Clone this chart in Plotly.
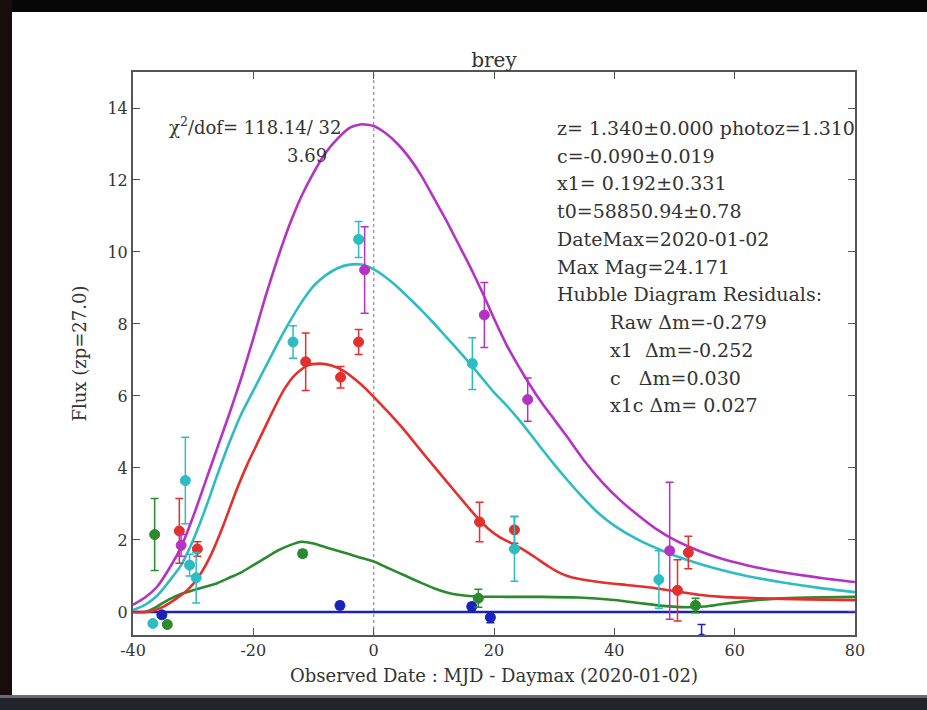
import plotly.graph_objects as go

# ---------------- model light curves (flux vs. days from peak) ----------------
mag_x = [-40, -38, -36, -34, -32, -30, -28, -26, -24, -22, -20, -18, -16, -14, -12, -10, -8, -6, -4, -2,
         0, 2, 4, 6, 8, 10, 12, 14, 16, 18, 20, 22, 24, 26, 28, 30, 32, 35, 38, 41, 44, 47, 50, 54, 58,
         62, 66, 70, 75, 80]
mag_y = [0.2, 0.4, 0.7, 1.2, 1.8, 2.65, 3.6, 4.55, 5.5, 6.5, 7.6, 8.75, 9.8, 10.75, 11.55, 12.2, 12.75,
         13.15, 13.45, 13.55, 13.5, 13.3, 13.0, 12.6, 12.1, 11.5, 10.9, 10.25, 9.6, 8.9, 8.15, 7.45, 6.85,
         6.3, 5.8, 5.35, 4.9, 4.2, 3.6, 3.1, 2.68, 2.3, 2.0, 1.7, 1.47, 1.3, 1.16, 1.05, 0.93, 0.83]

cyan_x = [-40, -38, -36, -34, -32, -30, -28, -26, -24, -22, -20, -18, -16, -14, -12, -10, -8, -6, -4, -2,
          0, 2, 4, 6, 8, 10, 12, 14, 16, 18, 20, 22, 24, 26, 28, 30, 32, 34, 37, 40, 44, 48, 52, 57, 62,
          68, 74, 80]
cyan_y = [0.05, 0.2, 0.45, 0.85, 1.3, 2.0, 2.85, 3.8, 4.7, 5.5, 6.15, 6.8, 7.45, 8.05, 8.6, 9.05, 9.35,
          9.55, 9.65, 9.65, 9.52, 9.3, 9.02, 8.7, 8.37, 8.02, 7.65, 7.28, 6.9, 6.5, 6.1, 5.75, 5.37, 4.95,
          4.52, 4.1, 3.7, 3.32, 2.8, 2.4, 2.0, 1.7, 1.45, 1.2, 1.0, 0.82, 0.67, 0.55]

red_x = [-40, -38, -37, -35, -33, -31, -29, -27, -25, -23, -21, -19, -17, -15, -13, -11, -9, -7, -5, -3,
         -1, 1, 3, 5, 7, 9, 11, 13, 15, 17, 19, 21, 23, 25, 27, 29, 31, 33, 38, 42, 46, 50, 54, 58, 64,
         72, 80]
red_y = [0.0, 0.0, 0.02, 0.14, 0.35, 0.6, 1.0, 1.6, 2.4, 3.3, 4.1, 4.8, 5.5, 6.15, 6.6, 6.85, 6.9, 6.85,
         6.7, 6.45, 6.15, 5.8, 5.45, 5.07, 4.66, 4.25, 3.85, 3.45, 3.05, 2.66, 2.32, 2.07, 1.9, 1.72, 1.5,
         1.27, 1.08, 0.96, 0.82, 0.75, 0.68, 0.58, 0.48, 0.42, 0.38, 0.35, 0.33]

green_x = [-40, -38, -36, -34, -32, -30, -28, -26, -24, -22, -20, -18, -16, -14, -12, -10, -8, -6, -4, -2,
           0, 2, 4, 6, 8, 10, 12, 14, 17, 22, 28, 34, 40, 44, 48, 52, 55, 58, 62, 67, 72, 80]
green_y = [0.0, 0.0, 0.15, 0.35, 0.5, 0.6, 0.7, 0.8, 0.95, 1.1, 1.3, 1.5, 1.7, 1.85, 1.95, 1.9, 1.8, 1.7,
           1.6, 1.5, 1.4, 1.25, 1.1, 0.95, 0.8, 0.66, 0.55, 0.48, 0.43, 0.42, 0.42, 0.4, 0.33, 0.25, 0.17,
           0.13, 0.15, 0.22, 0.3, 0.37, 0.4, 0.42]

blue_x = [-40, 80]
blue_y = [0.0, 0.0]

# ---------------- measured fluxes with 1-sigma errors ----------------
mag_pt_x = [-32.0, -1.5, 18.4, 25.6, 49.2]
mag_pt_y = [1.85, 9.5, 8.25, 5.9, 1.7]
mag_pt_e = [0.3, 1.2, 0.9, 0.6, 1.9]

cyan_pt_x = [-36.7, -31.3, -30.6, -29.5, -13.4, -2.5, 16.4, 23.4, 47.4]
cyan_pt_y = [-0.32, 3.65, 1.3, 0.95, 7.5, 10.35, 6.9, 1.75, 0.9]
cyan_pt_e = [0.05, 1.2, 0.3, 0.7, 0.45, 0.5, 0.72, 0.9, 0.8]

red_pt_x = [-32.3, -29.3, -11.3, -5.5, -2.5, 17.6, 23.4, 50.5, 52.3]
red_pt_y = [2.25, 1.75, 6.95, 6.52, 7.5, 2.5, 2.28, 0.6, 1.65]
red_pt_e = [0.9, 0.2, 0.8, 0.3, 0.35, 0.55, 0.37, 0.85, 0.45]

green_pt_x = [-36.4, -34.3, -11.8, 17.4, 53.5]
green_pt_y = [2.15, -0.35, 1.62, 0.38, 0.18]
green_pt_e = [1.0, 0.05, 0.1, 0.25, 0.2]

blue_pt_x = [-35.2, -5.6, 16.3, 19.4, 54.5]
blue_pt_y = [-0.08, 0.18, 0.15, -0.15, -0.75]
blue_pt_e = [0.05, 0.1, 0.1, 0.15, 0.4]

# ---------------- fit summary text ----------------
chi2_line1 = "χ<sup>2</sup>/dof= 118.14/ 32"
chi2_line2 = "3.69"
fit_lines = [
    "z= 1.340±0.000 photoz=1.310",
    "c=-0.090±0.019",
    "x1= 0.192±0.331",
    "t0=58850.94±0.78",
    "DateMax=2020-01-02",
    "Max Mag=24.171",
    "Hubble Diagram Residuals:",
]
resid_lines = [
    "Raw Δm=-0.279",
    "x1  Δm=-0.252",
    "c   Δm=0.030",
    "x1c Δm= 0.027",
]

x_ticks = [-40, -20, 0, 20, 40, 60, 80]
y_ticks = [0, 2, 4, 6, 8, 10, 12, 14]

COL = {
    "m": "#b433c4",
    "c": "#2dbcc2",
    "r": "#e2302c",
    "g": "#2b8a2e",
    "b": "#1a22b8",
}
SERIF = "DejaVu Serif, Liberation Serif, serif"
TXT = "#333333"

fig = go.Figure()

# reference line at peak date
fig.add_shape(type="line", xref="x", yref="paper", x0=0, x1=0, y0=0, y1=1,
              line=dict(color="#a0a0a0", width=1.5, dash="dot"), layer="below")

curves = [
    (blue_x, blue_y, "b"),
    (green_x, green_y, "g"),
    (red_x, red_y, "r"),
    (cyan_x, cyan_y, "c"),
    (mag_x, mag_y, "m"),
]
for cx, cy, k in curves:
    fig.add_trace(go.Scatter(x=cx, y=cy, mode="lines",
                             line=dict(color=COL[k], width=2.6, shape="spline", smoothing=0.6),
                             showlegend=False, hoverinfo="skip"))

points = [
    (blue_pt_x, blue_pt_y, blue_pt_e, "b"),
    (green_pt_x, green_pt_y, green_pt_e, "g"),
    (red_pt_x, red_pt_y, red_pt_e, "r"),
    (cyan_pt_x, cyan_pt_y, cyan_pt_e, "c"),
    (mag_pt_x, mag_pt_y, mag_pt_e, "m"),
]
for px, py, pe, k in points:
    fig.add_trace(go.Scatter(
        x=px, y=py, mode="markers",
        marker=dict(color=COL[k], size=10, symbol="circle", line=dict(color=COL[k], width=1)),
        error_y=dict(type="data", array=pe, visible=True, color=COL[k], thickness=1.5, width=4),
        showlegend=False,
    ))

annotations = [
    dict(x=-34.4, y=13.5, text=chi2_line1, xanchor="left", yanchor="middle", size=18),
    dict(x=-14.8, y=12.68, text=chi2_line2, xanchor="left", yanchor="middle", size=18),
]
y0, dy = 13.45, 0.771
for i, t in enumerate(fit_lines):
    annotations.append(dict(x=30.2, y=y0 - i * dy, text=t, xanchor="left", yanchor="middle", size=19))
for j, t in enumerate(resid_lines):
    annotations.append(dict(x=39.0, y=y0 - (len(fit_lines) + j) * dy, text=t.replace("  ", "&nbsp;&nbsp;"),
                            xanchor="left", yanchor="middle", size=19))
for a in annotations:
    sz = a.pop("size")
    a.update(xref="x", yref="y", showarrow=False, font=dict(family=SERIF, size=sz, color=TXT))

# dark surround of the white figure area (positions in paper units of the plot box)
W, H = 722.0, 563.0
ML, MB = 133.0, 75.0
def px_x(p):
    return (p - ML) / W
def px_y(p):
    return (710.0 - MB - p) / H
border = [
    (px_x(0), px_y(0), px_x(927), px_y(12), "#070708"),
    (px_x(0), px_y(0), px_x(12), px_y(710), "#180c0c"),
    (px_x(0), px_y(697), px_x(927), px_y(710), "#23232c"),
    (px_x(0), px_y(695), px_x(927), px_y(698), "#6a6a70"),
]
for x0, ya, x1, yb, c in border:
    fig.add_shape(type="rect", xref="paper", yref="paper", x0=x0, x1=x1, y0=min(ya, yb), y1=max(ya, yb),
                  line=dict(width=0), fillcolor=c, layer="above")

axis_common = dict(
    showgrid=False, zeroline=False, showline=True, linecolor="#555555", linewidth=2,
    mirror="allticks", ticks="inside", ticklen=7, tickwidth=1.2, tickcolor="#555555",
    tickfont=dict(family=SERIF, size=16, color=TXT),
)

fig.update_layout(
    width=927, height=710,
    margin=dict(l=133, r=72, t=72, b=75),
    paper_bgcolor="white", plot_bgcolor="white",
    title=dict(text="brey", x=0.5, xref="paper", xanchor="center", y=1 - 60 / 710, yanchor="middle",
               font=dict(family=SERIF, size=20, color=TXT)),
    xaxis=dict(range=[-40, 80], tickvals=x_ticks, ticktext=[str(v) for v in x_ticks],
               title=dict(text="Observed Date : MJD - Daymax (2020-01-02)", standoff=10,
                          font=dict(family=SERIF, size=18, color=TXT)),
               **axis_common),
    yaxis=dict(range=[-0.64, 15.0], tickvals=y_ticks, ticktext=[str(v) for v in y_ticks],
               title=dict(text="Flux (zp=27.0)", standoff=16, font=dict(family=SERIF, size=18, color=TXT)),
               **axis_common),
    annotations=annotations,
    showlegend=False,
)

fig.write_html("out.html")
